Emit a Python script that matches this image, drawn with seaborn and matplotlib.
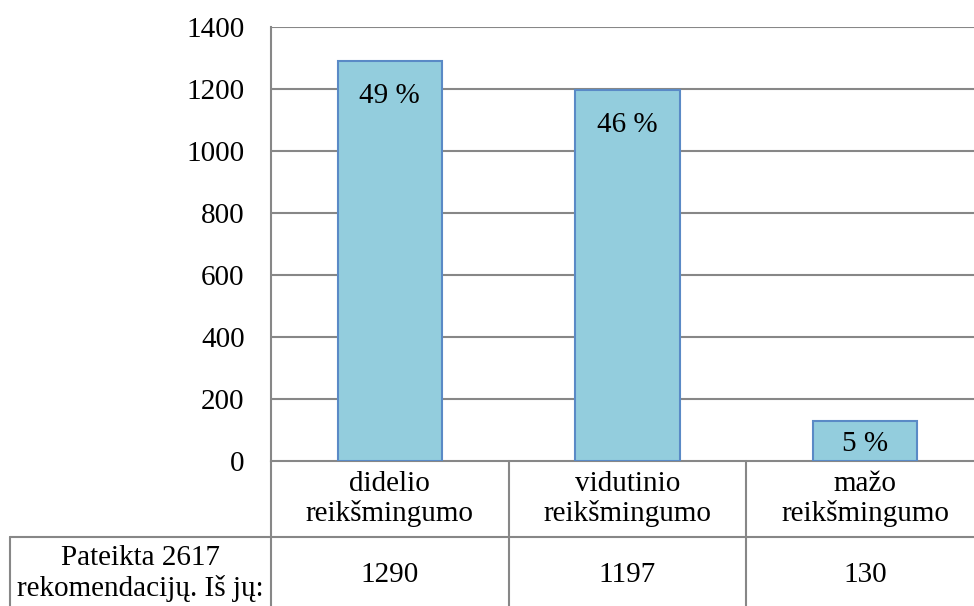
import matplotlib
matplotlib.use("Agg")
import matplotlib.pyplot as plt
import seaborn as sns
import pandas as pd

categories = ["didelio\nreikšmingumo", "vidutinio\nreikšmingumo", "mažo\nreikšmingumo"]
values = [1290, 1197, 130]
percent_labels = ["49 %", "46 %", "5 %"]
row_label = "Pateikta 2617\nrekomendacijų. Iš jų:"
y_ticks = [0, 200, 400, 600, 800, 1000, 1200, 1400]

sns.set_theme(style="white")
plt.rcParams["font.family"] = ["Liberation Serif", "DejaVu Serif"]
plt.rcParams["text.color"] = "black"
plt.rcParams["ytick.color"] = "black"
plt.rcParams["ytick.labelcolor"] = "black"
FS = 21
LS = 1.17
GRID = "#878787"
W, H = 974, 606

fig = plt.figure(figsize=(W / 100, H / 100), dpi=100)
# plot area in pixel coords
L, R, T, B = 271, 984, 27, 461
ax = fig.add_axes([L / W, (H - B) / H, (R - L) / W, (B - T) / H])

df = pd.DataFrame({"cat": categories, "val": values})
sns.barplot(data=df, x="cat", y="val", ax=ax, color="#93CDDD", width=0.44,
            edgecolor="#5A8AC6", linewidth=1.5, saturation=1, zorder=3)
ax.set_ylim(0, 1400)
ax.set_xlim(-0.5, 2.5)
ax.set_yticks(y_ticks)
ax.set_yticklabels([str(t) for t in y_ticks], fontsize=FS, color="black")
ax.tick_params(axis="y", length=0, pad=19)
ax.set_xticks([])
ax.set_xlabel("")
ax.set_ylabel("")
for t in y_ticks[1:]:
    ax.axhline(t, color=GRID, lw=1.5, zorder=1)
for s in ["top", "right"]:
    ax.spines[s].set_visible(False)
ax.spines["left"].set_color(GRID)
ax.spines["left"].set_linewidth(1.5)
ax.spines["bottom"].set_color(GRID)
ax.spines["bottom"].set_linewidth(1.5)

# percent labels inside bar tops
px_per_unit = (B - T) / 1400
for i, (v, lab) in enumerate(zip(values, percent_labels)):
    bar_px = v * px_per_unit
    off_px = 35 if bar_px > 70 else bar_px / 2 + 3
    ax.annotate(lab, (i, v), xytext=(0, -off_px * 0.72), textcoords="offset points",
                ha="center", va="center", fontsize=FS, color="black", zorder=5)

# data table
RB = 613
tax = fig.add_axes([L / W, (H - RB) / H, (R - L) / W, (RB - B) / H])
tax.set_xlim(-0.5, 2.5)
tax.set_ylim(0, 2)
tax.axis("off")
cw = (R - L) / 3
left_x = -0.5 - (L - 10) / cw
kw = dict(color=GRID, lw=1.5, clip_on=False)
tax.plot([left_x, 2.5], [1, 1], **kw)
tax.plot([-0.5, -0.5], [0, 2], **kw)
tax.plot([left_x, left_x], [0, 1], **kw)
for xb in [0.5, 1.5]:
    tax.plot([xb, xb], [0, 2], **kw)
for i, (c, v) in enumerate(zip(categories, values)):
    tax.text(i, 1.5, c, ha="center", va="center", fontsize=FS, linespacing=LS)
    tax.text(i, 0.5, str(v), ha="center", va="center", fontsize=FS)
tax.text((left_x - 0.5) / 2, 0.52, row_label, ha="center", va="center",
         fontsize=FS, linespacing=LS)

fig.savefig("out.png", dpi=100)
